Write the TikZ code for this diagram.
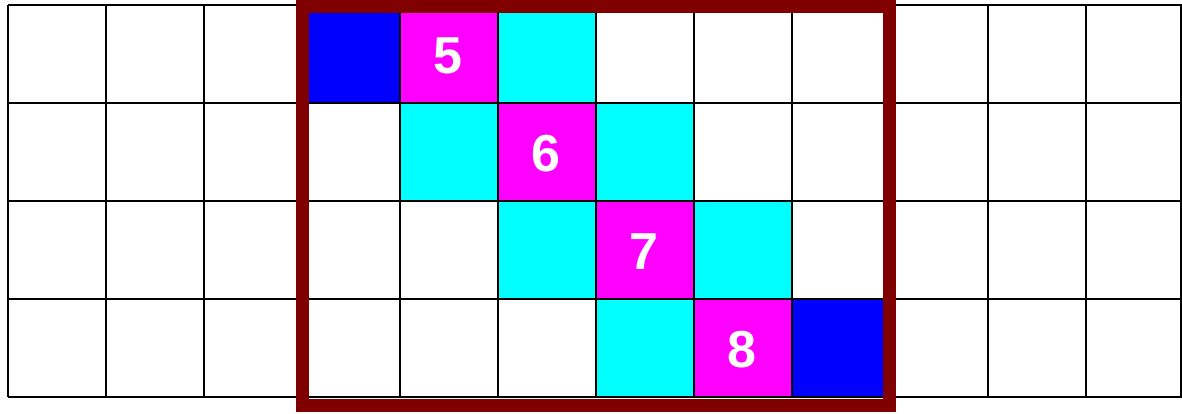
\documentclass[tikz,border=0pt]{standalone}
\usepackage{fontspec}
\setsansfont{Liberation Sans}
\usepackage{xcolor}
\usetikzlibrary{positioning}
\definecolor{bandred}{RGB}{128,0,0}
\definecolor{pureblue}{RGB}{0,0,255}
\definecolor{puremagenta}{RGB}{255,0,255}
\definecolor{purecyan}{RGB}{0,255,255}
\newcommand{\paintcell}[3]{\fill[#3] ({8+98*#1},{5+98*#2}) rectangle ++(98,98);}

\begin{document}
\begin{tikzpicture}[x=1pt, y=-1pt,
    gridline/.style={line width=2pt, black},
    bandframe/.style={line width=13pt, bandred},
    every node/.style={font=\sffamily\bfseries\fontsize{52}{52}\selectfont, text=white}]
    \useasboundingbox (0,0) rectangle (1182,413);

    % Cells
    \paintcell{3}{0}{pureblue}
    \paintcell{4}{0}{puremagenta}
    \paintcell{5}{0}{purecyan}
    \paintcell{4}{1}{purecyan}
    \paintcell{5}{1}{puremagenta}
    \paintcell{6}{1}{purecyan}
    \paintcell{5}{2}{purecyan}
    \paintcell{6}{2}{puremagenta}
    \paintcell{7}{2}{purecyan}
    \paintcell{6}{3}{purecyan}
    \paintcell{7}{3}{puremagenta}
    \paintcell{8}{3}{pureblue}

    % Grid
    \foreach \i in {0,...,11}
        \draw[gridline] ({8+98*\i},5) -- ({8+98*\i},397);
    \draw[gridline] (1181,5) -- (1181,397);
    \foreach \j in {0,...,4}
        \draw[gridline] (8,{5+98*\j}) -- (1182,{5+98*\j});

    % Labels
    \node (five) at (448,56) {5};
    \node (six) at (546,154) {6};
    \node (seven) at (644,252) {7};
    \node (eight) at (742,350) {8};

    % Frame
    \draw[bandframe] (302.5,6) rectangle (889.5,405);
\end{tikzpicture}
\end{document}
